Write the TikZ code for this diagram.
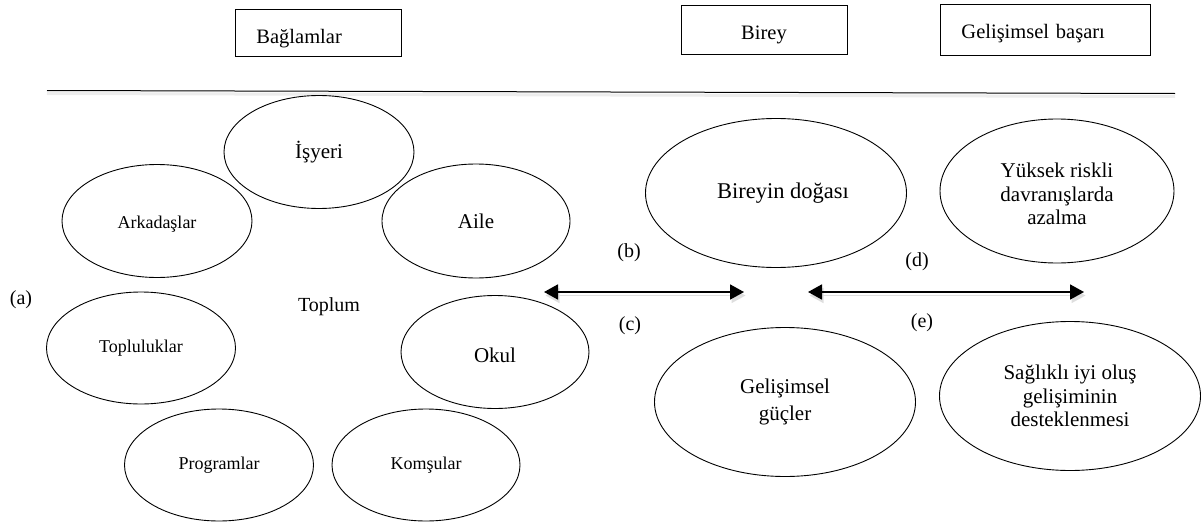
\documentclass[tikz,border=0pt]{standalone}
\usepackage{fontspec}
\setmainfont{Liberation Serif}
\usetikzlibrary{shapes.geometric,arrows.meta}
% lower a piece of text without changing the size TeX sees
\newcommand{\dropby}[2]{\raisebox{-#1}[\height][\depth]{#2}}
\begin{document}
\begin{tikzpicture}[x=1pt,y=-1pt,
  headbox/.style={draw, line width=0.9pt, inner ysep=0pt, font=\fontsize{20.5}{24}\selectfont},
  bubble/.style={draw, ellipse, line width=0.9pt, inner sep=0pt, align=center,
                 font=\fontsize{21}{23.5}\selectfont},
  smalltext/.style={font=\fontsize{18}{21}\selectfont},
  tag/.style={inner sep=0pt, font=\fontsize{20}{24}\selectfont},
  twoway/.style={{Triangle[length=14pt,width=15pt]}-{Triangle[length=14pt,width=15pt]},
                 line width=1.8pt},
  twowayshade/.style={twoway, draw=black!13, fill=black!13}
]
\useasboundingbox (0,0) rectangle (1203,522);

% column headings
\node[headbox, anchor=north west, inner xsep=21pt, text width=124pt, align=left,
      minimum height=47pt] (bag) at (235,9) {\dropby{6pt}{Bağlamlar}};
\node[headbox, minimum width=166pt, minimum height=49pt] (birey) at (764,30) {\dropby{5pt}{Birey}};
\node[headbox, anchor=north west, inner xsep=21pt, text width=168pt, align=left,
      minimum height=51pt] (basari) at (940,4) {\dropby{4pt}{Gelişimsel başarı}};

% separator rule with a faint shade
\draw[black!7, line width=3pt] (47,93.5) -- (1175,96.5);
\draw[line width=1pt] (47,90.5) -- (1175,93.5);

% contexts around society
\node[bubble, minimum width=190pt, minimum height=113pt] (isyeri) at (319,152) {İşyeri};
\node[bubble, smalltext, minimum width=190pt, minimum height=113pt] (arkadas) at (157,221) {\dropby{3pt}{Arkadaşlar}};
\node[bubble, minimum width=188pt, minimum height=114pt] (aile) at (476,221) {Aile};
\node[bubble, smalltext, minimum width=189pt, minimum height=112pt] (topluluk) at (141,348) {Topluluklar};
\node[bubble, minimum width=188pt, minimum height=113pt] (okul) at (495,352) {\dropby{3pt}{Okul}};
\node[bubble, smalltext, minimum width=189pt, minimum height=112pt] (program) at (219,465) {Programlar};
\node[bubble, smalltext, minimum width=188pt, minimum height=112pt] (komsu) at (426,465) {Komşular};
\node[tag] (toplum) at (329,307) {Toplum};
\node[tag] (la) at (21,300) {(a)};

% the individual
\node[bubble, minimum width=261pt, minimum height=149pt] (doga) at (776,193)
  {\hspace*{14pt}\fontsize{22.5}{26}\selectfont Bireyin doğası};
\node[bubble, minimum width=261pt, minimum height=149pt,
      font=\fontsize{21}{27}\selectfont] (guc) at (785,402) {Gelişimsel\\güçler};

% developmental outcomes
\node[bubble, minimum width=234pt, minimum height=144pt] (risk) at (1057,191)
  {\dropby{5.5pt}{\begin{tabular}{@{}c@{}}Yüksek riskli\\davranışlarda\\azalma\end{tabular}}};
\node[bubble, minimum width=261pt, minimum height=149pt] (saglik) at (1070,396)
  {Sağlıklı iyi oluş\\gelişiminin\\desteklenmesi};

% two-way links
\coordinate (bc1) at (544,292);
\coordinate (bc2) at (744,292);
\coordinate (de1) at (808,292);
\coordinate (de2) at (1084,292);
\draw[twowayshade] ([shift={(1.5,3.5)}]bc1) -- ([shift={(1.5,3.5)}]bc2);
\draw[twowayshade] ([shift={(1.5,3.5)}]de1) -- ([shift={(1.5,3.5)}]de2);
\draw[twoway] (bc1) -- (bc2);
\draw[twoway] (de1) -- (de2);

\node[tag] (lb) at (629,253) {(b)};
\node[tag] (lc) at (630,326) {(c)};
\node[tag] (ld) at (917,262) {(d)};
\node[tag] (le) at (922,323) {(e)};
\end{tikzpicture}
\end{document}
